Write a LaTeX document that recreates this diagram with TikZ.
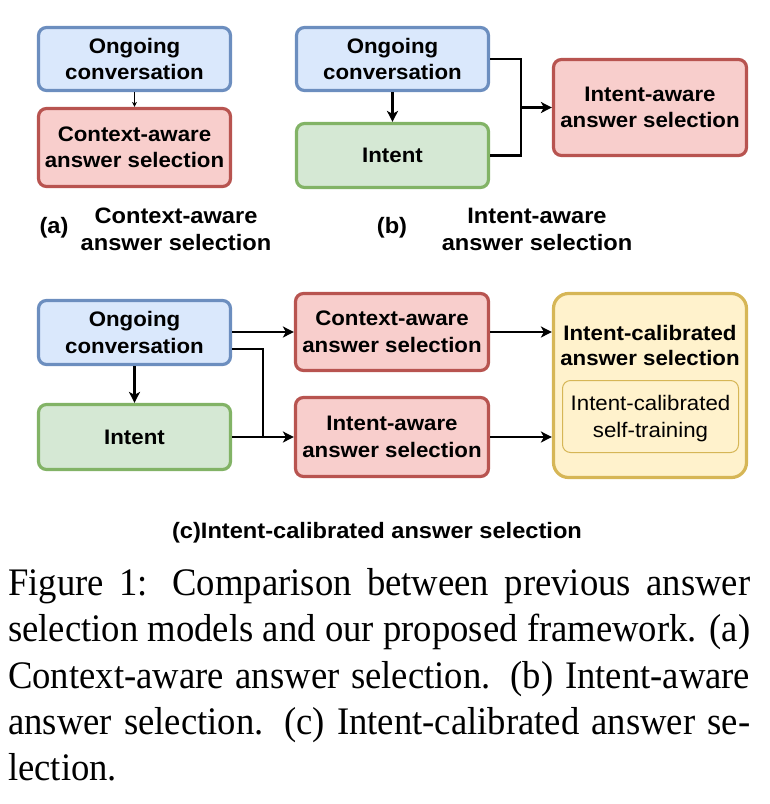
\documentclass[tikz,border=0pt]{standalone}
\usepackage{fontspec}
\setmainfont{Liberation Serif}
\newfontfamily\boxfont[FakeStretch=1.06]{Liberation Sans}
\newfontfamily\capfont[FakeStretch=0.94]{Liberation Serif}
\usetikzlibrary{arrows.meta}
\definecolor{bfill}{HTML}{DAE8FC}\definecolor{bdraw}{HTML}{6C8EBF}
\definecolor{gfill}{HTML}{D5E8D4}\definecolor{gdraw}{HTML}{82B366}
\definecolor{rfill}{HTML}{F8CECC}\definecolor{rdraw}{HTML}{B85450}
\definecolor{yfill}{HTML}{FFF2CC}\definecolor{ydraw}{HTML}{D6B656}
\tikzset{
  box/.style={draw, line width=3.2pt, rounded corners=8pt, align=center, inner sep=0pt,
    font=\boxfont\bfseries\fontsize{21}{26.5}\selectfont},
  bluebox/.style={box, fill=bfill, draw=bdraw},
  greenbox/.style={box, fill=gfill, draw=gdraw},
  redbox/.style={box, fill=rfill, draw=rdraw},
  yellowbox/.style={box, fill=yfill, draw=ydraw, rounded corners=15pt},
  innerbox/.style={draw=ydraw, fill=yfill, line width=1pt, rounded corners=8pt, align=center,
    inner sep=0pt, text depth=0pt, font=\boxfont\fontsize{21}{26.5}\selectfont},
  title/.style={align=center, inner sep=0pt, font=\boxfont\bfseries\fontsize{21}{25}\selectfont},
  lab/.style={align=center, inner sep=0pt, font=\boxfont\bfseries\fontsize{22.3}{27.5}\selectfont},
  conn/.style={line width=2.8pt},
  arr/.style={line width=2.8pt, -{Stealth[length=11pt,width=11pt,inset=3pt]}},
  thinarr/.style={line width=1pt, -{Stealth[length=5pt,width=5pt,inset=1.5pt]}},
  capline/.style={anchor=base west, inner sep=0pt, font=\capfont\fontsize{39}{46}\selectfont}
}
\begin{document}
\begin{tikzpicture}[x=1pt,y=-1pt]
\useasboundingbox (0,0) rectangle (770,804);
% (a)
\node[bluebox, minimum width=192pt, minimum height=63pt] (a1) at (134.5,59) {Ongoing\\conversation};
\node[redbox, minimum width=192pt, minimum height=78pt] (a2) at (134.5,147.5) {Context-aware\\answer selection};
\draw[thinarr] (a1) -- (a2);
\node[lab] (la) at (54,228) {(a)};
\node[lab] (lat) at (176,229.5) {Context-aware\\answer selection};
% (b)
\node[bluebox, minimum width=192pt, minimum height=63pt] (b1) at (392.5,59) {Ongoing\\conversation};
\node[greenbox, minimum width=192pt, minimum height=64pt] (b2) at (392.5,155.5) {Intent};
\node[redbox, minimum width=193pt, minimum height=96pt] (b3) at (650,107.5) {Intent-aware\\answer selection};
\coordinate (bj) at (521,107.5);
\draw[arr] (b1) -- (b2);
\draw[conn] (b1.east) -| (bj) |- (b2.east);
\draw[arr] (bj) -- (b3.west);
\node[lab] (lb) at (392,228) {(b)};
\node[lab] (lbt) at (537,229.5) {Intent-aware\\answer selection};
% (c)
\node[bluebox, minimum width=192pt, minimum height=64pt] (c1) at (134.5,332.5) {Ongoing\\conversation};
\node[greenbox, minimum width=192pt, minimum height=65pt] (c2) at (134.5,437) {Intent};
\node[redbox, minimum width=193pt, minimum height=77pt] (c3) at (392,332) {Context-aware\\answer selection};
\node[redbox, minimum width=193pt, minimum height=79pt] (c4) at (392,437) {Intent-aware\\answer selection};
\node[yellowbox, minimum width=193pt, minimum height=184pt] (c5) at (650,385.5) {};
\node[title] (c5t) at (650,345) {Intent-calibrated\\answer selection};
\node[innerbox, minimum width=176pt, minimum height=72pt] (c6) at (650.5,416.5) {Intent-calibrated\\self-training};
\coordinate (h349) at (0,349);
\coordinate (cj) at (263,437);
\draw[arr] (c1) -- (c2);
\draw[arr] (c1.east |- c3.west) -- (c3.west);
\draw[conn] (c1.east |- h349) -| (cj);
\draw[arr] (c2.east) -- (c4.west);
\draw[arr] (c3.east) -- (c5.west |- c3.east);
\draw[arr] (c4.east) -- (c5.west |- c4.east);
\node[lab] (lc) at (377,533) {(c)Intent-calibrated answer selection};
% caption
\node[capline] (cap1) at (8,595.5) {\makebox[742pt][s]{Figure 1: Comparison between previous answer}};
\node[capline] (cap2) at (8,641.7) {\makebox[742pt][s]{selection models and our proposed framework. (a)}};
\node[capline] (cap3) at (8,688) {\makebox[742pt][s]{Context-aware answer selection. (b) Intent-aware}};
\node[capline] (cap4) at (8,734.3) {\makebox[742pt][s]{answer selection. (c) Intent-calibrated answer se-}};
\node[capline] (cap5) at (8,780.5) {lection.};
\end{tikzpicture}
\end{document}
